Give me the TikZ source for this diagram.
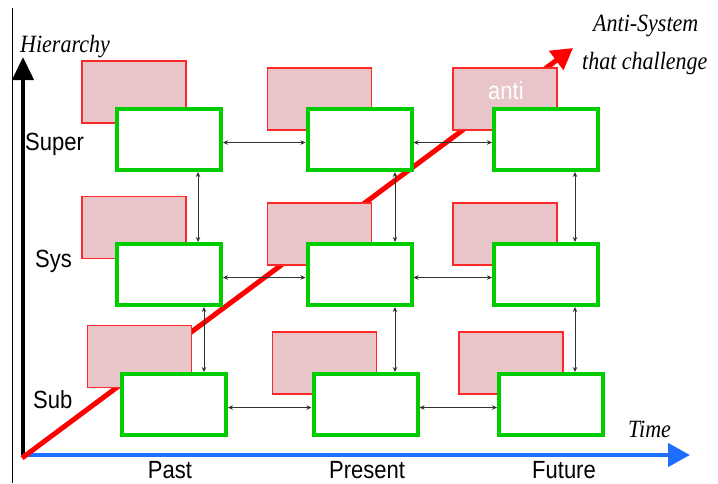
\documentclass[tikz,border=0pt]{standalone}
\usepackage{fontspec}
\setmainfont{Liberation Serif}
\setsansfont{Liberation Sans}
\usetikzlibrary{arrows.meta}
\definecolor{boxgreen}{RGB}{0,204,0}
\definecolor{pinkfill}{RGB}{232,197,201}
\definecolor{pinkedge}{RGB}{255,40,40}
\definecolor{axisblue}{RGB}{30,110,255}
\definecolor{connclr}{RGB}{50,50,50}
\newcommand\tallt[1]{\scalebox{1}[1.13]{#1}}
\tikzset{
  gbox/.style={draw=boxgreen, line width=4pt, fill=white, minimum width=104pt, minimum height=61pt, inner sep=0pt},
  pbox/.style={draw=pinkedge, line width=1.2pt, fill=pinkfill, minimum width=104pt, minimum height=62pt, inner sep=0pt},
  conn/.style={draw=connclr, line width=0.9pt, {Stealth[length=5pt,width=4.5pt]}-{Stealth[length=5pt,width=4.5pt]}},
  slbl/.style={font=\sffamily\fontsize{22}{26}\selectfont, inner sep=0pt, anchor=base west},
  ilbl/.style={font=\rmfamily\itshape\fontsize{22}{26}\selectfont, inner sep=0pt, anchor=base west},
}
\begin{document}
\begin{tikzpicture}[x=1pt,y=-1pt]
\useasboundingbox (0,0) rectangle (718,483);
% frame line at left
\coordinate (lt) at (12,8);
\coordinate (lb) at (12,483);
\draw[line width=1pt] (lt) -- (lb);
% axes
\coordinate (O) at (23,455);
\coordinate (htip) at (23,57);
\coordinate (ttip) at (690,455);
\coordinate (rstart) at (22,458);
\coordinate (rtip) at (573,48);
\draw[line width=4pt, -{Triangle[length=23pt,width=21pt]}] (O) -- (htip);
\draw[line width=4.5pt, draw=axisblue, -{Triangle[length=22pt,width=23pt]}, axisblue] (O) -- (ttip);
\draw[line width=5pt, draw=red, -{Triangle[length=21pt,width=23pt]}, red] (rstart) -- (rtip);
% pink boxes
\node[pbox] (p11) at (134,92) {};
\node[pbox] (p12) at (319.5,99) {};
\node[pbox] (p13) at (505,99) {};
\node[pbox] (p21) at (134,227.5) {};
\node[pbox] (p22) at (319.5,234) {};
\node[pbox] (p23) at (505,234) {};
\node[pbox] (p31) at (139.5,356.5) {};
\node[pbox] (p32) at (324.5,363) {};
\node[pbox] (p33) at (511,363) {};
\node[slbl, text=white] (anti) at (488,99) {\tallt{anti}};
% green boxes
\node[gbox] (g11) at (169,139.5) {};
\node[gbox] (g12) at (359.5,139.5) {};
\node[gbox] (g13) at (546,139.5) {};
\node[gbox] (g21) at (169,274.5) {};
\node[gbox] (g22) at (359.5,274.5) {};
\node[gbox] (g23) at (546,274.5) {};
\node[gbox] (g31) at (174,404.5) {};
\node[gbox] (g32) at (365.5,404.5) {};
\node[gbox] (g33) at (551,404.5) {};
% horizontal connectors
\draw[conn] ([yshift=-3pt]g11.east) -- ([yshift=-3pt]g12.west);
\draw[conn] ([yshift=-3pt]g12.east) -- ([yshift=-3pt]g13.west);
\draw[conn] ([yshift=-3pt]g21.east) -- ([yshift=-3pt]g22.west);
\draw[conn] ([yshift=-3pt]g22.east) -- ([yshift=-3pt]g23.west);
\draw[conn] ([yshift=-3pt]g31.east) -- ([yshift=-3pt]g32.west);
\draw[conn] ([yshift=-3pt]g32.east) -- ([yshift=-3pt]g33.west);
% vertical connectors
\draw[conn] ([xshift=29pt]g11.south) -- ([xshift=29pt]g21.north);
\draw[conn] ([xshift=35.5pt]g12.south) -- ([xshift=35.5pt]g22.north);
\draw[conn] ([xshift=29pt]g13.south) -- ([xshift=29pt]g23.north);
\draw[conn] ([xshift=35pt]g21.south) -- ([xshift=30pt]g31.north);
\draw[conn] ([xshift=35.5pt]g22.south) -- ([xshift=29.5pt]g32.north);
\draw[conn] ([xshift=29pt]g23.south) -- ([xshift=24pt]g33.north);
% labels
\node[ilbl] (hier) at (20,52) {\tallt{Hierarchy}};
\node[ilbl] (as1) at (593,31) {\tallt{Anti-System}};
\node[ilbl] (as2) at (582,69) {\tallt{that challenge}};
\node[ilbl] (time) at (628,437) {\tallt{Time}};
\node[slbl] (super) at (25,150) {\tallt{Super}};
\node[slbl] (sys) at (35,267) {\tallt{Sys}};
\node[slbl] (sub) at (33,408) {\tallt{Sub}};
\node[slbl, anchor=base] (past) at (170,478) {\tallt{Past}};
\node[slbl, anchor=base] (present) at (367,478) {\tallt{Present}};
\node[slbl, anchor=base] (future) at (564,478) {\tallt{Future}};
\end{tikzpicture}
\end{document}
